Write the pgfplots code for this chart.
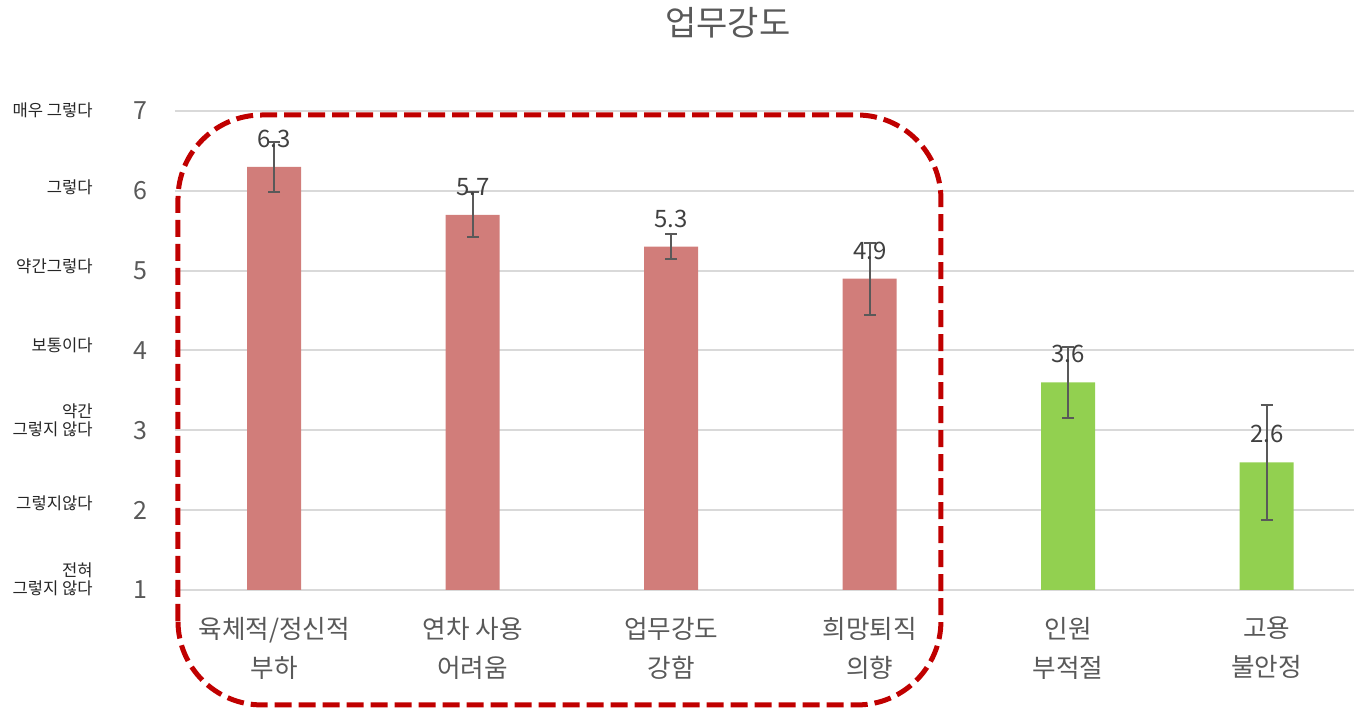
\documentclass[border=0pt]{standalone}
\usepackage{fontspec}
\setmainfont{Noto Sans CJK KR}
\usepackage{pgfplots}
\pgfplotsset{compat=1.18}

\definecolor{barred}{HTML}{D17D7A}
\definecolor{bargreen}{HTML}{92D050}
\definecolor{boxred}{HTML}{C00000}
\definecolor{gridgray}{HTML}{D9D9D9}
\definecolor{txtgray}{HTML}{595959}
\definecolor{lblgray}{HTML}{404040}
\definecolor{errgray}{HTML}{595959}

\pgfplotstableread{
x y e
0 6.3 0.31
1 5.7 0.28
2 5.3 0.16
3 4.9 0.45
}\highdata
\pgfplotstableread{
x y e
4 3.6 0.45
5 2.6 0.72
}\lowdata

\begin{document}
\begin{tikzpicture}
\begin{axis}[
    scale only axis, width=589.5pt, height=239.5pt,
    xmin=-0.5, xmax=5.44, ymin=1, ymax=7,
    ytick={1,...,7}, xtick={0,...,5},
    xticklabels={{육체적/정신적\\부하},{연차 사용\\어려움},{업무강도\\강함},{희망퇴직\\의향},{인원\\부적절},{고용\\불안정}},
    ymajorgrids, grid style={draw=gridgray, line width=1pt},
    axis line style={draw=none}, major tick length=0pt,
    xticklabel style={align=center, font=\fontsize{12.8}{19.5}\selectfont, text=txtgray, yshift=-10pt},
    yticklabel style={font=\fontsize{12.5}{15}\selectfont, text=txtgray, anchor=east, inner sep=0pt, xshift=-13.5pt},
    /pgf/number format/assume math mode=true,
    ybar, bar width=27pt, bar shift=0pt,
    clip=false,
    nodes near coords,
    nodes near coords style={font=\fontsize{12}{14}\selectfont, text=lblgray, anchor=center, yshift=14pt},
    error bars/y dir=both, error bars/y explicit,
    error bars/error bar style={draw=errgray, line width=1pt},
    error bars/error mark options={rotate=90, mark size=3pt, line width=1pt, draw=errgray},
]
\addplot[fill=barred, draw=none] table[x=x, y=y, y error=e] {\highdata};
\addplot[fill=bargreen, draw=none] table[x=x, y=y, y error=e] {\lowdata};

\coordinate (SW) at (rel axis cs:0,0);
\coordinate (NE) at (rel axis cs:1,1);

% highlight box around the first four categories
\draw[boxred, line width=2.5pt, dash pattern=on 8.5pt off 3.5pt, rounded corners=42pt]
    (axis cs:-0.485,-0.44) rectangle (axis cs:3.359,6.95);

% title
\node[font=\fontsize{17}{20}\selectfont, text=txtgray] at (rel axis cs:0.469,1) [yshift=44pt] {업무강도};

% scale descriptions
\begin{scope}[every node/.style={anchor=east, align=right, font=\fontsize{8.3}{9}\selectfont, text=black!85, inner sep=0pt}]
\node at (axis cs:-0.5,7.01) [xshift=-41pt] {매우 그렇다};
\node at (axis cs:-0.5,6.05) [xshift=-41pt] {그렇다};
\node at (axis cs:-0.5,5.05) [xshift=-41pt] {약간그렇다};
\node at (axis cs:-0.5,4.07) [xshift=-41pt] {보통이다};
\node at (axis cs:-0.5,3.13) [xshift=-41pt] {약간\\그렇지 않다};
\node at (axis cs:-0.5,2.09) [xshift=-41pt] {그렇지않다};
\node at (axis cs:-0.5,1.14) [xshift=-41pt] {전혀\\그렇지 않다};
\end{scope}
\end{axis}
\pgfresetboundingbox
\path[use as bounding box] ([xshift=-87.5pt,yshift=-59.5pt]SW) rectangle ([yshift=55.5pt]NE);
\end{tikzpicture}
\end{document}
